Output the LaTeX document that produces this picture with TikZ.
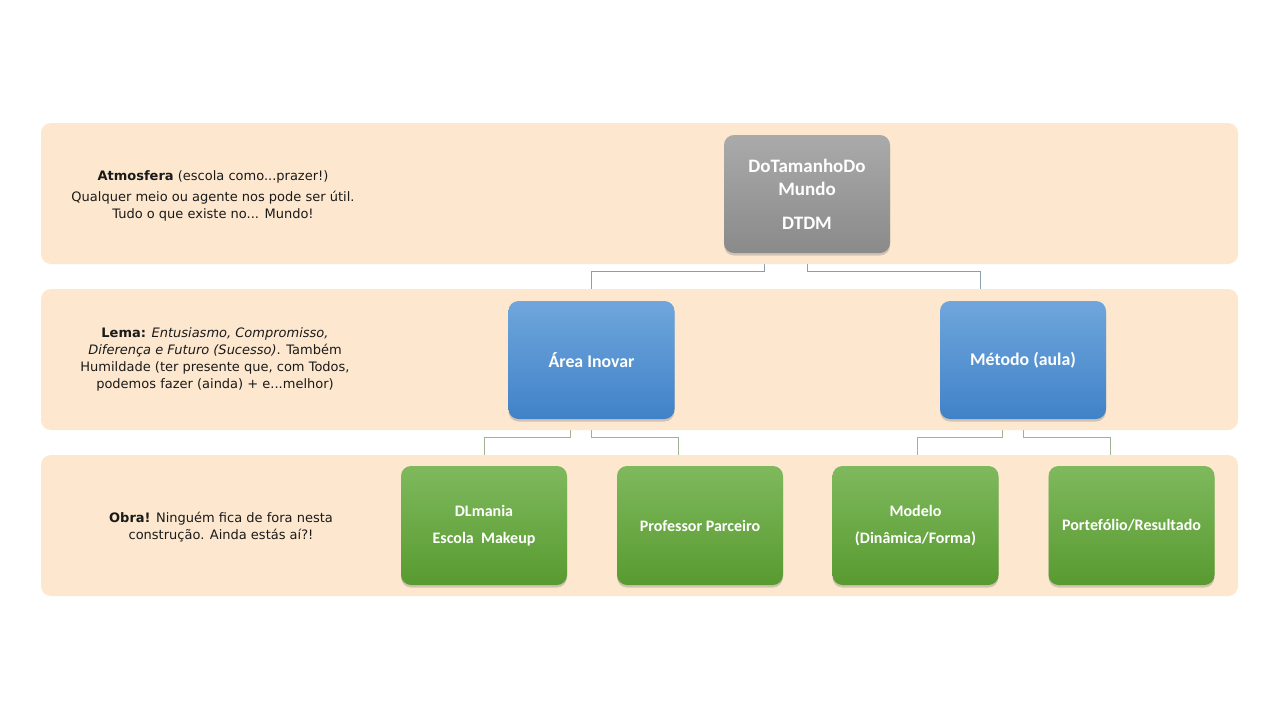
\documentclass[tikz,border=0pt]{standalone}
\usepackage{fontspec}
\setmainfont{DejaVu Sans}
\newfontfamily\boxfont{Carlito}
\usetikzlibrary{shadows}
\definecolor{band}{HTML}{FDE8CF}
\definecolor{conn}{HTML}{9FB293}
\definecolor{conntop}{HTML}{8E9DAE}
\definecolor{txt}{HTML}{1A1A1A}
\tikzset{
  bandbox/.style={fill=band, draw=none, rounded corners=10pt},
  boxbase/.style={rounded corners=10pt, draw=none, minimum width=166, minimum height=118,
    text=white, align=center, font=\boxfont\bfseries,
    drop shadow={opacity=0.35, shadow xshift=0pt, shadow yshift=-2.5pt}},
  greybox/.style={boxbase, top color={rgb,255:red,170;green,170;blue,170}, bottom color={rgb,255:red,138;green,138;blue,138}, font=\boxfont\bfseries\fontsize{19}{23}\selectfont},
  bluebox/.style={boxbase, top color={rgb,255:red,111;green,166;blue,220}, bottom color={rgb,255:red,64;green,130;blue,200}, font=\boxfont\bfseries\fontsize{17.8}{20}\selectfont},
  greenbox/.style={boxbase, minimum height=119, top color={rgb,255:red,127;green,185;blue,93}, bottom color={rgb,255:red,88;green,154;blue,48}, font=\boxfont\bfseries\fontsize{16}{27}\selectfont},
  connline/.style={draw=conn, line width=0.8pt},
  conntopline/.style={draw=conntop, line width=0.8pt},
  lefttext/.style={align=center, text=txt, font=\fontsize{13}{17}\selectfont, inner sep=0pt}
}
\begin{document}
\begin{tikzpicture}[x=1pt,y=-1pt]
\useasboundingbox (0,0) rectangle (1280,720);
\fill[white] (0,0) rectangle (1280,720);

% invisible placeholders for the connectors (drawn first so bands cover them)
\path (807,194) node[minimum width=166, minimum height=118, inner sep=0] (dtdm0) {};
\path (591.5,360) node[minimum width=166, minimum height=118, inner sep=0] (area0) {};
\path (1023,360) node[minimum width=166, minimum height=118, inner sep=0] (metodo0) {};
\path (484,525.5) node[minimum width=166, minimum height=119, inner sep=0] (dl0) {};
\path (700,525.5) node[minimum width=166, minimum height=119, inner sep=0] (prof0) {};
\path (915.5,525.5) node[minimum width=166, minimum height=119, inner sep=0] (mod0) {};
\path (1131.5,525.5) node[minimum width=166, minimum height=119, inner sep=0] (port0) {};

\draw[conntopline] ([xshift=-43pt]dtdm0.south) -- ++(0,18) -| (area0.north);
\draw[conntopline] (dtdm0.south) -- ++(0,18) -| ([xshift=-43pt]metodo0.north);
\draw[connline] ([xshift=-21.5pt]area0.south) -- ++(0,18) -| (dl0.north);
\draw[connline] (area0.south) -- ++(0,18) -| ([xshift=-22pt]prof0.north);
\draw[connline] ([xshift=-21pt]metodo0.south) -- ++(0,18) -| ([xshift=1.5pt]mod0.north);
\draw[connline] (metodo0.south) -- ++(0,18) -| ([xshift=-21.5pt]port0.north);

% bands
\fill[bandbox] (41,123) rectangle (1238,264);
\fill[bandbox] (41,289) rectangle (1238,430);
\fill[bandbox] (41,455) rectangle (1238,596);

% left texts
\node[lefttext] (t1) at (213,196) {\textbf{Atmosfera} (escola como...prazer!)\\[4pt]Qualquer meio ou agente nos pode ser útil.\\Tudo o que existe no... Mundo!};
\node[lefttext] (t2) at (215,359) {\textbf{Lema:} \textit{Entusiasmo, Compromisso,}\\\textit{Diferença e Futuro (Sucesso)}. Também\\Humildade (ter presente que, com Todos,\\podemos fazer (ainda) + e...melhor)};
\node[lefttext] (t3) at (221,527) {\textbf{Obra!} Ninguém fica de fora nesta\\construção. Ainda estás aí?!};

% boxes
\node[greybox] (dtdm) at (dtdm0) {DoTamanhoDo\\Mundo\\[11pt]DTDM};
\node[bluebox] (area) at (area0) {Área Inovar};
\node[bluebox] (metodo) at (metodo0) {Método (aula)};
\node[greenbox] (dl) at (dl0) {DLmania\\Escola\ \ Makeup};
\node[greenbox] (prof) at (prof0) {Professor Parceiro};
\node[greenbox] (mod) at (mod0) {Modelo\\(Dinâmica/Forma)};
\node[greenbox] (port) at (port0) {Portefólio/Resultado};
\end{tikzpicture}
\end{document}
